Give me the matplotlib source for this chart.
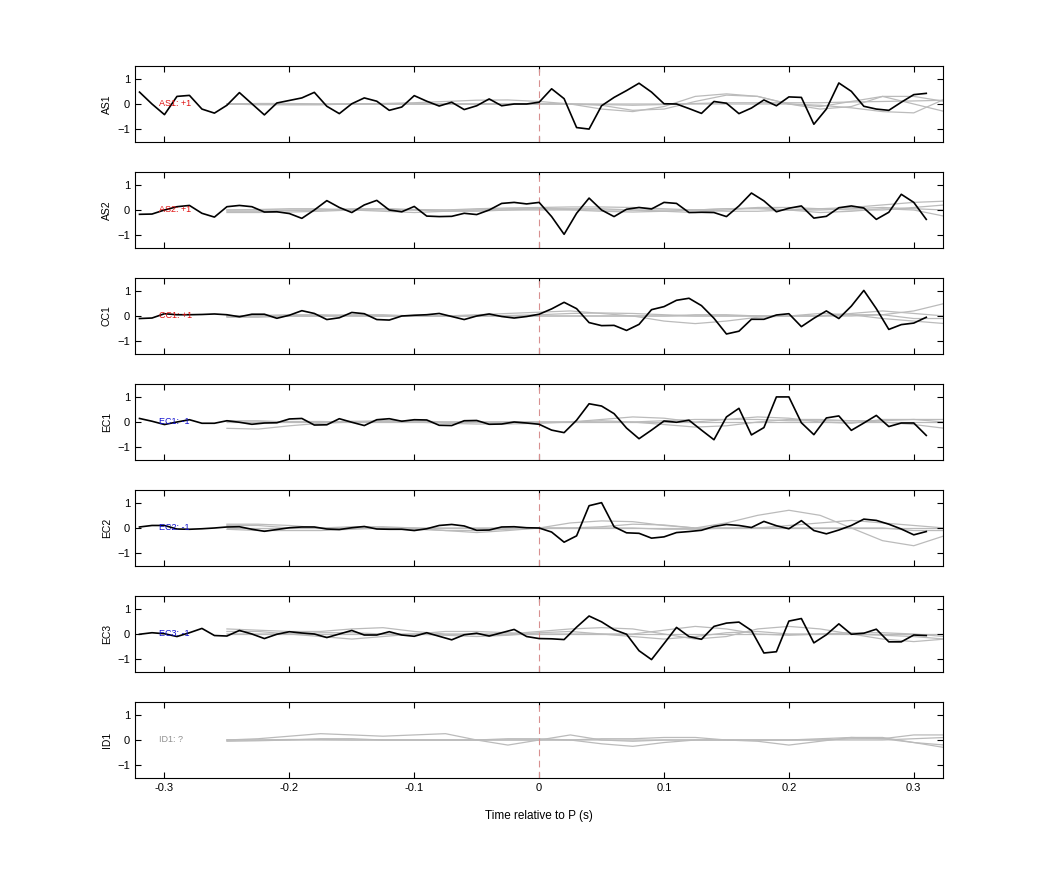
import numpy as np
import matplotlib
matplotlib.use("Agg")
import matplotlib.pyplot as plt

plt.rcParams['font.family'] = ['Liberation Sans', 'DejaVu Sans']

names = ["AS1", "AS2", "CC1", "EC1", "EC2", "EC3", "ID1"]
tags = ["AS1: +1", "AS2: +1", "CC1: +1", "EC1: -1", "EC2: -1", "EC3: -1", "ID1: ?"]
tag_colors = ["#e01010", "#e01010", "#e01010", "#1010d0", "#1010d0", "#1010d0", "#909090"]

t_black = np.round(np.arange(-0.32, 0.315, 0.01), 3)  # 64 samples

black = {
"AS1": [0.47,0.0,-0.42,0.30,0.34,-0.20,-0.36,-0.05,0.45,0.01,-0.43,0.04,0.14,0.24,0.46,-0.09,-0.38,0.01,0.24,0.11,-0.25,-0.12,0.33,0.11,-0.08,0.07,-0.22,-0.07,0.20,-0.07,0.00,0.00,0.07,
        0.60,0.21,-0.93,-0.99,-0.07,0.26,0.53,0.82,0.47,0.01,0.0,-0.18,-0.37,0.10,0.03,-0.38,-0.16,0.16,-0.07,0.28,0.26,-0.80,-0.20,0.83,0.50,-0.09,-0.20,-0.25,0.07,0.37,0.42],
"AS2": [-0.17,-0.16,0.0,0.13,0.18,-0.13,-0.28,0.13,0.18,0.13,-0.08,-0.07,-0.14,-0.33,0.0,0.37,0.10,-0.10,0.20,0.38,0.0,-0.07,0.14,-0.24,-0.26,-0.25,-0.13,-0.18,0.0,0.26,0.30,0.24,0.30,
        -0.26,-0.96,-0.13,0.47,0.0,-0.26,0.03,0.10,0.04,0.30,0.26,-0.10,-0.09,-0.10,-0.26,0.16,0.67,0.36,-0.07,0.07,0.16,-0.32,-0.25,0.09,0.16,0.08,-0.37,-0.09,0.62,0.30,-0.37],
"CC1": [-0.10,-0.08,0.09,0.05,0.05,0.06,0.08,0.05,-0.03,0.07,0.07,-0.09,0.03,0.21,0.10,-0.14,-0.07,0.14,0.09,-0.14,-0.16,0.0,0.03,0.05,0.10,-0.02,-0.14,0.0,0.08,-0.02,-0.08,-0.02,0.07,
        0.28,0.54,0.29,-0.26,-0.38,-0.37,-0.57,-0.33,0.25,0.37,0.62,0.70,0.41,-0.09,-0.71,-0.60,-0.13,-0.13,0.04,0.09,-0.42,-0.09,0.20,-0.10,0.39,1.01,0.29,-0.53,-0.34,-0.28,-0.05],
"EC1": [0.14,0.03,-0.10,0.0,0.09,-0.05,-0.05,0.05,-0.01,-0.09,-0.04,-0.03,0.12,0.14,-0.12,-0.11,0.13,-0.01,-0.14,0.09,0.13,0.03,0.09,0.08,-0.13,-0.14,0.05,0.06,-0.09,-0.08,0.0,-0.04,-0.09,
        -0.32,-0.42,0.07,0.72,0.63,0.33,-0.24,-0.66,-0.32,0.04,-0.01,0.07,-0.32,-0.70,0.20,0.54,-0.51,-0.22,0.99,0.99,-0.03,-0.50,0.16,0.24,-0.33,-0.04,0.26,-0.18,-0.04,-0.04,-0.53],
"EC2": [0.04,0.10,0.10,-0.04,-0.05,-0.03,0.0,0.04,0.05,-0.05,-0.13,-0.06,0.01,0.04,0.04,-0.04,-0.06,0.01,0.06,-0.04,-0.05,-0.05,-0.10,-0.03,0.10,0.14,0.08,-0.09,-0.08,0.04,0.05,0.01,0.0,
        -0.16,-0.56,-0.31,0.88,1.00,0.05,-0.19,-0.21,-0.40,-0.35,-0.18,-0.14,-0.09,0.06,0.14,0.10,0.02,0.26,0.09,-0.03,0.29,-0.10,-0.23,-0.08,0.10,0.35,0.30,0.15,-0.04,-0.27,-0.14],
"EC3": [-0.01,0.05,0.01,-0.10,0.05,0.22,-0.06,-0.08,0.14,0.0,-0.18,-0.01,0.09,0.04,0.0,-0.14,0.0,0.14,-0.04,-0.04,0.09,-0.04,-0.09,0.05,-0.09,-0.23,-0.03,0.03,-0.08,0.05,0.18,-0.10,-0.18,
        -0.19,-0.22,0.27,0.71,0.48,0.17,-0.01,-0.66,-1.01,-0.38,0.26,-0.10,-0.21,0.30,0.43,0.47,0.14,-0.75,-0.70,0.51,0.61,-0.35,-0.03,0.40,-0.01,0.03,0.19,-0.31,-0.31,-0.04,-0.06],
}

t_grey = np.round(np.arange(-0.25, 0.3251, 0.025), 4)  # 24 samples

grey = {
"AS1": [
    [0,0,0,0,0,0,0,0,0,0,0.0,0.0,-0.02,-0.05,-0.02,0.02,0.05,0.05,0.05,0.05,0.08,0.1,0.12,0.15],
    [0,0.02,0.02,0,0,0.02,0.05,0.1,0.15,0.16,0.1,0.0,-0.2,-0.3,-0.1,0.3,0.4,0.3,0.0,-0.1,0.1,0.3,0.0,-0.3],
    [0,0,-0.02,-0.02,0,0,0,0,0,0,0,0,-0.05,-0.25,-0.2,0.1,0.35,0.3,0.0,-0.2,-0.1,0.3,0.3,0.1],
    [0,-0.03,-0.03,-0.03,0,0,0,0,0,0,0,0,0.0,0.0,0.0,0.0,0.0,0.0,0.0,-0.05,-0.15,-0.3,-0.35,0.2],
],
"AS2": [
    [-0.1,-0.1,-0.08,-0.05,0,0.05,0.02,0,0.05,0.08,0.1,0.12,0.12,0.1,0.05,0.0,-0.05,-0.05,0.0,0.05,0.1,0.2,0.3,0.35],
    [0,0.02,0.05,0.05,0,-0.05,-0.1,-0.05,0,0.05,0.05,0.05,0.05,0.0,-0.05,-0.1,0.0,0.1,0.1,0.05,0.0,0.0,0.1,0.2],
    [-0.05,-0.05,-0.02,0.0,0.05,0.05,0.0,-0.05,-0.05,0.0,0.05,0.02,0.0,0.0,0.0,0.0,0.05,0.08,0.0,-0.1,-0.05,0.05,0.0,-0.25],
    [0,0,0,0,0,0,0,0,0,0,0,0.0,-0.05,-0.08,-0.05,0.0,0.05,0.05,0.0,0.0,0.05,0.1,0.05,0.0],
],
"CC1": [
    [0,0,0,0,0,0,0,0,0.05,0.1,0.15,0.2,0.1,0.0,-0.2,-0.3,-0.2,-0.05,0.0,0.0,0.1,0.2,0.1,0.0],
    [0,0.02,0.05,0.05,0.02,0,0,0,0,0.02,0.05,0.1,0.12,0.1,0.05,0.0,0.0,0.0,0.0,0.0,0.0,0.05,0.2,0.5],
    [-0.05,-0.05,0.0,0.0,0.05,0.05,0.0,0.0,0.0,0.0,0.0,0.0,0.0,0.0,0.0,0.05,0.05,0.0,0.0,0.1,0.05,-0.1,-0.2,-0.3],
    [0,0,0,0,0,0,0,0,0,0,0,0,0,0,0,0,0,0,0,0,0.05,0.05,-0.1,-0.1],
],
"EC1": [
    [-0.25,-0.28,-0.15,-0.05,0,0.05,0.05,0.0,0.0,0.0,0.0,0.0,0.1,0.2,0.15,0.0,0.1,0.2,0.15,0.0,-0.05,0.1,0.1,0.0],
    [0,0,0.02,0.02,0,0,0,0,0,0,0,0.0,0.05,0.0,-0.1,-0.2,-0.15,0.0,0.1,0.1,0.05,0.0,-0.1,-0.25],
    [0.05,0.05,0.0,0.0,0.03,0.03,0.0,-0.05,-0.08,-0.08,-0.05,0.0,0.0,0.0,0.05,0.1,0.1,0.1,0.05,0.05,0.05,0.05,0.1,0.1],
    [0,0,0,0,0,0,0,0,0,0,0,0,0,0,0,0,0,0,0,0,0,0,0,0],
],
"EC2": [
    [0.15,0.15,0.1,0.0,0.0,0.0,-0.05,-0.1,-0.18,-0.1,0.0,0.2,0.28,0.25,0.1,0.0,0.2,0.5,0.7,0.5,0.0,-0.5,-0.7,-0.3],
    [0.1,0.1,0.0,0.0,0.05,0.05,0.0,-0.1,-0.1,-0.05,0.0,0.0,0.05,0.15,0.12,0.0,0.0,0.0,0.1,0.2,0.3,0.2,0.1,0.0],
    [-0.05,-0.1,-0.1,-0.1,-0.05,0.0,0.0,0.0,0.0,0.0,0.0,0.0,0.0,0.0,-0.05,-0.05,0.0,0.0,0.0,0.0,0.0,0.0,-0.1,-0.1],
    [0,0,0,0,0,0,0,0,0,0,0,0,0,0,0,0,0,0,0,0,0,0,0,0],
],
"EC3": [
    [0.2,0.15,0.1,0.1,0.2,0.25,0.1,0.0,0.0,0.0,0.1,0.2,0.25,0.2,0.0,-0.2,-0.1,0.2,0.3,0.2,0.0,-0.2,-0.3,-0.2],
    [0.1,0.1,0.0,-0.1,-0.2,-0.1,0.0,0.1,0.1,0.05,0.0,0.0,0.0,0.0,0.15,0.3,0.2,0.0,-0.05,0.0,0.05,0.05,0.0,-0.1],
    [0,0,0,0.05,0.05,0.0,0.0,-0.05,-0.1,-0.05,0.05,0.1,0.0,-0.1,-0.2,-0.1,0.05,0.1,0.0,0.0,0.0,-0.05,-0.1,-0.2],
    [0,0,0,0,0,0,0,0,0,0,0,0,0,0,0,0,0,0,0,0,0,0,0,0],
],
"ID1": [
    [0,0.05,0.15,0.25,0.2,0.15,0.2,0.25,0.0,-0.2,0.0,0.2,0.0,-0.05,0.0,0.0,0.0,0.0,0.0,0.0,0.05,0.05,0.2,0.2],
    [-0.05,-0.03,0.0,0.05,0.05,0.0,0.0,0.0,0.0,0.05,0.05,0.0,-0.15,-0.25,-0.1,0.0,0.0,-0.05,-0.2,-0.05,0.1,0.1,-0.1,-0.2],
    [0,0,0.02,0.02,0,0,0,0,0,0,0,0,0.05,0.05,0.1,0.1,0.0,0.0,0.0,0.05,0.1,0.05,-0.1,-0.3],
    [0,0,0,0,0,0,0,0,0,0,0,0,0,0,0,0,0,0,0,0,0,0.0,0.05,0.1],
],
}

W, H = 1042, 875
fig = plt.figure(figsize=(W/100, H/100), dpi=100)
left, right = 135/W, 943/W
for i, nm in enumerate(names):
    top_px = 66 + 106*i
    ax = fig.add_axes([left, 1-(top_px+76)/H, right-left, 76/H])
    for g in grey[nm]:
        ax.plot(t_grey, g, color="#bbbbbb", lw=0.9, zorder=1)
    if nm in black:
        ax.plot(t_black, black[nm], color="black", lw=1.2, zorder=3)
    ax.axvline(0, color="#d89090", lw=0.8, dashes=(6, 4), zorder=2)
    ax.text(-0.304, 0, tags[i], color=tag_colors[i], fontsize=6.5, va="center", ha="left", zorder=4)
    ax.set_xlim(-0.3236, 0.3234)
    ax.set_ylim(-1.5, 1.5)
    ax.set_yticks([-1, 0, 1])
    ax.set_xticks([-0.3, -0.2, -0.1, 0, 0.1, 0.2, 0.3])
    ax.tick_params(direction="in", top=True, right=True, labelsize=8, length=4, width=0.8)
    ax.set_ylabel(nm, fontsize=7.5)
    for s in ax.spines.values():
        s.set_linewidth(0.8)
    if i < len(names)-1:
        ax.set_xticklabels([])
    else:
        ax.set_xticklabels(["-0.3", "-0.2", "-0.1", "0", "0.1", "0.2", "0.3"])
        ax.set_xlabel("Time relative to P (s)", fontsize=8.5, labelpad=12)

fig.savefig("out.png", dpi=100)
